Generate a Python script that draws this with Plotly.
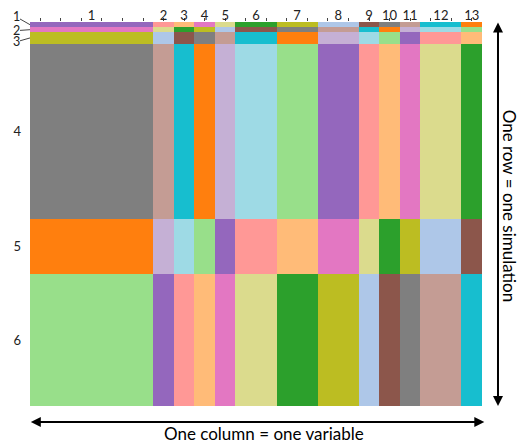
import plotly.graph_objects as go

# ---- data ----
variables = ["1", "2", "3", "4", "5", "6", "7", "8", "9", "10", "11", "12", "13"]
variable_widths = [6, 1, 1, 1, 1, 2, 2, 2, 1, 1, 1, 2, 1]          # in unit columns
groups = ["1", "2", "3", "4", "5", "6"]
group_rows = [14, 12, 31, 456, 143, 344]                            # simulations per group

palette_names = ["purple", "lightred", "lightorange", "pink", "lightolive", "green",
                 "olive", "lightblue", "brown", "gray", "lightbrown", "cyan",
                 "orange", "lightpurple", "lightcyan", "lightgreen"]
palette_colors = ["#9467bd", "#ff9896", "#ffbb78", "#e377c2", "#dbdb8d", "#2ca02c",
                  "#bcbd22", "#aec7e8", "#8c564b", "#7f7f7f", "#c49c94", "#17becf",
                  "#ff7f0e", "#c5b0d5", "#9edae5", "#98df8a"]

cell_colors = [
    ["purple", "lightred", "lightorange", "pink", "lightolive", "green", "olive",
     "lightblue", "brown", "gray", "lightbrown", "cyan", "orange"],
    ["pink", "lightolive", "green", "olive", "lightblue", "brown", "gray",
     "lightbrown", "cyan", "orange", "lightpurple", "lightcyan", "lightgreen"],
    ["olive", "lightblue", "brown", "gray", "lightbrown", "cyan", "orange",
     "lightpurple", "lightcyan", "lightgreen", "purple", "lightred", "lightorange"],
    ["gray", "lightbrown", "cyan", "orange", "lightpurple", "lightcyan", "lightgreen",
     "purple", "lightred", "lightorange", "pink", "lightolive", "green"],
    ["orange", "lightpurple", "lightcyan", "lightgreen", "purple", "lightred", "lightorange",
     "pink", "lightolive", "green", "olive", "lightblue", "brown"],
    ["lightgreen", "purple", "lightred", "lightorange", "pink", "lightolive", "green",
     "olive", "lightblue", "brown", "gray", "lightbrown", "cyan"],
]

# ---- build ----
x_edges = [0]
for w in variable_widths:
    x_edges.append(x_edges[-1] + w)
y_edges = [0]
for h in group_rows:
    y_edges.append(y_edges[-1] + h)
x_centers = [(x_edges[i] + x_edges[i + 1]) / 2 for i in range(len(variables))]
y_centers = [(y_edges[i] + y_edges[i + 1]) / 2 for i in range(len(groups))]

n = len(palette_colors)
z = [[palette_names.index(c) for c in row] for row in cell_colors]
colorscale = []
for i, c in enumerate(palette_colors):
    colorscale.append([i / n, c])
    colorscale.append([(i + 1) / n, c])

fig = go.Figure(go.Heatmap(
    z=z, x=x_edges, y=y_edges, colorscale=colorscale,
    zmin=-0.5, zmax=n - 0.5, showscale=False, hoverinfo="skip",
))

font_family = "Lato, 'Open Sans', sans-serif"
label_font = dict(family=font_family, size=13, color="#222222")
small_font = dict(family=font_family, size=12.5, color="#222222")

fig.update_xaxes(
    range=[0, x_edges[-1]], side="top", tickmode="array",
    tickvals=x_centers, ticktext=variables, ticks="", ticklen=0,
    tickfont=label_font, showgrid=False, zeroline=False, showline=False,
    automargin=False, ticklabelstandoff=-2,
    minor=dict(tickmode="array", tickvals=[i + 0.5 for i in range(x_edges[-1])],
               ticks="outside", ticklen=3, tickwidth=1, tickcolor="#444444", showgrid=False),
)
fig.update_yaxes(
    range=[y_edges[-1], 0], tickmode="array",
    tickvals=y_centers[3:], ticktext=groups[3:], ticks="",
    tickfont=label_font, showgrid=False, zeroline=False, showline=False,
    ticklabelstandoff=8, automargin=False,
)

# small groups labelled with leader lines
offsets = [(-14, -8), (-14, 1), (-14, 4)]
for i in range(3):
    fig.add_annotation(x=0, y=y_centers[i], xref="x", yref="y", text=groups[i],
                       showarrow=True, arrowhead=0, arrowwidth=1, arrowcolor="#444444",
                       ax=offsets[i][0], ay=offsets[i][1], font=small_font,
                       standoff=0, borderpad=0)

# double arrows
fig.add_annotation(x=(497.7 - 29.5) / 452.2, y=0, xref="paper", yref="paper", text="",
                   showarrow=True, arrowhead=2, arrowside="end+start", arrowsize=1,
                   arrowwidth=2, arrowcolor="black", ax=0, ay=-385)
fig.add_annotation(x=(484 - 29.5) / 452.2, y=(406 - 422) / 384, xref="paper", yref="paper",
                   text="", showarrow=True, arrowhead=2, arrowside="end+start", arrowsize=1,
                   arrowwidth=2, arrowcolor="black", ax=-455, ay=0)

fig.add_annotation(x=(264 - 29.5) / 452.2, y=(406 - 433.5) / 384, xref="paper", yref="paper",
                   xanchor="center", yanchor="middle", borderpad=0,
                   text="One column = one variable", showarrow=False,
                   font=dict(family=font_family, size=17, color="black"))
fig.add_annotation(x=(510 - 29.5) / 452.2, y=(406 - 206) / 384, xref="paper", yref="paper",
                   xanchor="center", yanchor="middle", borderpad=0,
                   text="One row = one simulation", showarrow=False, textangle=90,
                   font=dict(family=font_family, size=17, color="black"))

fig.update_layout(
    width=519, height=443,
    margin=dict(l=29.5, r=37.3, t=22, b=37),
    paper_bgcolor="white", plot_bgcolor="white",
)

fig.write_html("out.html", config={"displayModeBar": False},
               post_script="document.body.style.margin='0';document.body.style.overflow='hidden';")
